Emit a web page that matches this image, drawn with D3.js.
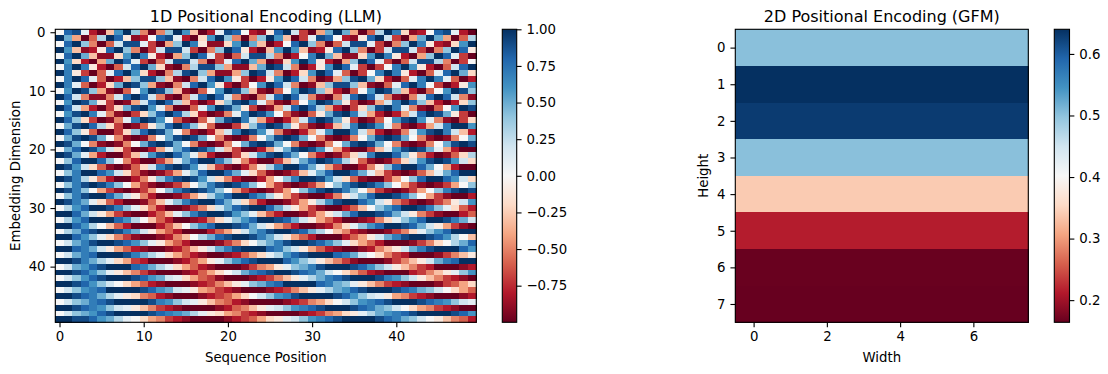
<!DOCTYPE html>
<html>
<head>
<meta charset="utf-8">
<script src="https://cdn.jsdelivr.net/npm/d3@7"></script>
<style>
  html, body { margin: 0; padding: 0; background: #fff; }
  svg { display: block; }
  text { font-family: "DejaVu Sans", sans-serif; fill: #000; }
</style>
</head>
<body>
<div id="chart"></div>
<script>
// cell values of the left map, in tenths, one line per embedding dimension
var llmRows = [
  [0,8,9,1,-8,-10,-3,6,10,4,-5,-10,-5,4,10,6,-3,-10,-8,1,9,8,0,-8,-9,-1,8,10,2,-7,-10,-4,5,10,5,-4,-10,-6,3,10,7,-2,-9,-8,0,8,9,1,-8,-10],
  [10,5,-4,-10,-6,3,10,8,-1,-9,-8,0,8,9,1,-8,-10,-2,6,10,4,-5,-10,-5,4,10,6,-3,-10,-7,1,9,8,0,-8,-9,-1,8,10,2,-7,-10,-4,5,10,5,-4,-10,-6,3],
  [0,8,10,4,-5,-10,-6,2,9,9,1,-7,-10,-4,4,10,7,-1,-9,-9,-2,6,10,5,-3,-10,-8,0,8,10,4,-5,-10,-6,2,9,9,1,-7,-10,-5,4,10,7,-1,-8,-9,-2,6,10],
  [10,6,-3,-9,-8,-1,8,10,4,-5,-10,-7,2,9,9,2,-7,-10,-5,4,10,8,-1,-8,-10,-3,6,10,6,-3,-9,-8,-1,8,10,4,-5,-10,-7,2,9,9,2,-7,-10,-5,4,10,8,-1],
  [0,8,10,5,-3,-9,-9,-2,6,10,7,-1,-8,-10,-4,4,10,8,1,-7,-10,-6,2,9,9,3,-5,-10,-8,0,7,10,5,-3,-9,-9,-2,6,10,7,-1,-8,-10,-4,4,10,8,1,-7,-10],
  [10,6,-2,-8,-10,-4,5,10,8,1,-7,-10,-6,2,9,9,2,-5,-10,-7,1,8,10,5,-4,-10,-9,-2,6,10,7,-1,-8,-10,-4,4,10,8,1,-7,-10,-6,2,9,9,3,-5,-10,-7,0],
  [0,7,10,7,-1,-8,-10,-6,2,8,10,5,-2,-9,-10,-5,3,9,9,4,-4,-9,-9,-3,5,10,9,2,-5,-10,-8,-1,6,10,8,1,-7,-10,-7,0,7,10,6,-1,-8,-10,-6,2,8,10],
  [10,7,-1,-7,-10,-6,1,8,10,6,-2,-8,-10,-5,3,9,10,4,-4,-9,-9,-4,4,10,9,2,-5,-10,-8,-2,6,10,8,1,-6,-10,-7,0,7,10,7,-1,-8,-10,-6,1,8,10,5,-2],
  [0,7,10,8,1,-6,-10,-8,-3,4,9,9,4,-3,-9,-10,-5,2,8,10,6,-1,-7,-10,-8,-1,6,10,8,2,-5,-10,-9,-4,4,9,10,5,-2,-8,-10,-6,1,7,10,7,1,-6,-10,-8],
  [10,7,1,-6,-10,-8,-2,5,10,9,4,-4,-9,-10,-5,2,8,10,6,-1,-8,-10,-7,0,6,10,8,2,-5,-10,-9,-3,4,9,9,4,-3,-9,-10,-6,1,8,10,7,0,-7,-10,-8,-1,6],
  [0,6,10,9,4,-4,-9,-10,-6,0,6,10,9,4,-3,-9,-10,-6,0,6,10,9,4,-3,-9,-10,-6,0,6,10,9,4,-3,-8,-10,-6,0,6,10,9,4,-3,-8,-10,-6,0,6,10,9,4],
  [10,8,2,-5,-9,-9,-5,2,8,10,8,2,-5,-9,-10,-5,2,8,10,8,2,-5,-9,-10,-5,2,8,10,8,2,-5,-9,-10,-5,2,8,10,8,2,-5,-9,-10,-5,2,8,10,8,2,-5,-9],
  [0,6,10,9,5,-1,-7,-10,-9,-4,2,8,10,8,3,-3,-8,-10,-8,-2,4,9,10,7,1,-5,-9,-10,-6,0,6,10,9,5,-1,-7,-10,-9,-4,2,7,10,8,4,-3,-8,-10,-8,-2,4],
  [10,8,2,-4,-8,-10,-7,-2,5,9,10,6,1,-5,-10,-10,-6,1,6,10,9,5,-1,-7,-10,-9,-4,2,8,10,8,3,-4,-8,-10,-7,-2,4,9,10,7,1,-5,-9,-10,-6,0,6,10,9],
  [0,6,9,10,7,1,-5,-9,-10,-7,-2,4,8,10,8,3,-2,-8,-10,-9,-5,1,7,10,9,6,0,-6,-9,-10,-6,-1,5,9,10,7,2,-4,-8,-10,-8,-4,2,8,10,9,5,-1,-7,-10],
  [10,8,4,-2,-7,-10,-9,-5,1,7,10,9,6,0,-6,-9,-10,-6,-1,5,9,10,7,2,-4,-8,-10,-8,-4,2,8,10,9,5,-1,-7,-10,-9,-6,0,6,9,10,6,1,-5,-9,-10,-7,-2],
  [0,5,9,10,8,3,-2,-7,-10,-9,-6,-1,4,8,10,8,4,-1,-6,-10,-10,-7,-2,4,8,10,9,5,-1,-6,-9,-10,-8,-3,2,7,10,9,6,1,-5,-9,-10,-8,-4,2,7,10,10,6],
  [10,8,4,-1,-6,-10,-10,-7,-2,4,8,10,9,5,0,-5,-9,-10,-8,-3,2,7,10,9,6,1,-5,-9,-10,-8,-4,1,6,10,10,7,2,-4,-8,-10,-9,-5,1,6,9,10,7,2,-3,-8],
  [0,5,9,10,9,5,0,-5,-9,-10,-9,-5,0,5,9,10,9,5,0,-5,-9,-10,-9,-5,0,5,9,10,9,5,0,-5,-9,-10,-9,-5,0,5,9,10,9,5,0,-5,-9,-10,-9,-5,0,5],
  [10,9,5,0,-5,-9,-10,-9,-5,0,5,9,10,9,5,0,-5,-9,-10,-9,-5,0,5,9,10,9,5,0,-5,-9,-10,-9,-5,0,5,9,10,9,5,0,-5,-9,-10,-9,-5,0,5,9,10,9],
  [0,5,8,10,9,6,2,-2,-7,-10,-10,-8,-4,1,5,8,10,9,6,2,-3,-7,-10,-10,-8,-4,1,5,9,10,9,6,1,-4,-8,-10,-10,-7,-3,1,6,9,10,9,5,1,-4,-8,-10,-10],
  [10,9,5,1,-4,-8,-10,-10,-7,-3,2,6,9,10,8,5,1,-4,-8,-10,-10,-7,-2,2,6,9,10,8,5,0,-5,-8,-10,-9,-6,-2,2,7,10,10,8,4,-1,-5,-8,-10,-9,-6,-2,3],
  [0,4,8,10,10,8,4,0,-5,-8,-10,-10,-7,-4,1,5,8,10,10,7,4,-1,-5,-8,-10,-10,-7,-3,1,5,8,10,9,7,3,-1,-6,-9,-10,-9,-6,-2,2,6,9,10,9,6,2,-2],
  [10,9,6,2,-2,-6,-9,-10,-9,-6,-2,2,7,9,10,9,6,1,-3,-7,-9,-10,-8,-5,-1,3,7,10,10,8,5,1,-4,-7,-10,-10,-8,-5,-1,4,8,10,10,8,5,0,-4,-8,-10,-10],
  [0,4,7,10,10,8,6,2,-2,-6,-9,-10,-9,-7,-4,1,4,8,10,10,8,5,1,-2,-6,-9,-10,-9,-7,-3,1,5,8,10,10,8,5,1,-3,-7,-9,-10,-9,-6,-3,1,5,8,10,10],
  [10,9,7,3,-1,-5,-8,-10,-10,-8,-5,-1,4,7,9,10,9,6,2,-2,-5,-8,-10,-10,-8,-4,0,4,7,10,10,9,6,2,-2,-6,-9,-10,-10,-7,-4,0,4,8,10,10,8,6,2,-2],
  [0,4,7,9,10,9,7,4,0,-4,-7,-9,-10,-9,-7,-4,0,4,7,9,10,9,7,4,0,-4,-7,-9,-10,-9,-7,-4,0,4,7,9,10,9,7,4,0,-4,-7,-9,-10,-9,-7,-4,0,4],
  [10,9,7,4,0,-4,-7,-9,-10,-9,-7,-4,0,4,7,9,10,9,7,4,0,-4,-7,-9,-10,-9,-7,-4,0,4,7,9,10,9,7,4,0,-4,-7,-9,-10,-9,-7,-4,0,4,7,9,10,9],
  [0,4,7,9,10,10,8,5,2,-1,-5,-8,-10,-10,-9,-7,-4,-1,3,6,8,10,10,8,6,3,-1,-4,-7,-9,-10,-10,-8,-5,-1,2,5,8,10,10,9,7,4,0,-4,-7,-9,-10,-10,-8],
  [10,9,7,5,1,-2,-6,-8,-10,-10,-9,-6,-3,1,4,7,9,10,10,8,5,2,-2,-5,-8,-10,-10,-9,-7,-4,-1,3,6,9,10,10,8,6,2,-1,-5,-7,-9,-10,-9,-7,-5,-1,2,6],
  [0,3,6,8,10,10,9,7,4,1,-2,-5,-8,-10,-10,-9,-7,-5,-2,2,5,8,9,10,10,8,5,2,-1,-4,-7,-9,-10,-10,-8,-6,-3,0,4,6,8,10,10,9,7,4,1,-2,-6,-8],
  [10,10,8,5,2,-1,-4,-7,-9,-10,-10,-8,-6,-3,1,4,7,9,10,10,9,6,4,1,-3,-6,-8,-10,-10,-9,-7,-4,-1,2,5,8,10,10,9,8,5,2,-1,-5,-7,-9,-10,-10,-8,-6],
  [0,3,6,8,10,10,10,8,6,3,0,-3,-6,-8,-10,-10,-9,-8,-5,-2,1,4,6,8,10,10,9,8,5,2,-1,-4,-6,-8,-10,-10,-9,-8,-5,-2,1,4,6,8,10,10,9,7,5,2],
  [10,10,8,6,3,0,-3,-6,-8,-10,-10,-10,-8,-6,-3,0,4,6,8,10,10,9,8,5,2,-1,-4,-6,-8,-10,-10,-9,-8,-5,-2,1,4,6,8,10,10,9,8,5,2,-1,-4,-7,-9,-10],
  [0,3,5,8,9,10,10,9,7,5,2,-1,-4,-6,-8,-10,-10,-10,-8,-6,-4,-1,2,5,7,9,10,10,9,8,5,3,0,-3,-5,-8,-9,-10,-10,-9,-7,-5,-2,1,4,6,8,10,10,10],
  [10,10,8,6,4,1,-2,-5,-7,-9,-10,-10,-9,-8,-5,-3,0,3,5,8,9,10,10,9,7,5,2,-1,-4,-6,-8,-10,-10,-10,-8,-6,-4,-1,2,5,7,9,10,10,9,8,6,3,0,-3],
  [0,2,5,7,9,10,10,9,8,6,4,1,-1,-4,-6,-8,-10,-10,-10,-9,-7,-5,-2,0,3,5,7,9,10,10,9,8,6,4,1,-2,-4,-6,-8,-10,-10,-10,-9,-7,-5,-2,0,3,5,8],
  [10,10,8,7,5,2,-1,-4,-6,-8,-9,-10,-10,-9,-8,-6,-3,-1,2,5,7,9,10,10,10,8,7,4,2,-1,-4,-6,-8,-9,-10,-10,-9,-8,-5,-3,-1,2,5,7,9,10,10,10,8,6],
  [0,2,5,7,8,10,10,10,9,7,5,3,1,-2,-4,-6,-8,-9,-10,-10,-9,-8,-6,-4,-2,1,3,6,8,9,10,10,10,8,7,5,2,0,-2,-5,-7,-8,-10,-10,-10,-9,-7,-5,-3,-1],
  [10,10,9,7,5,3,1,-2,-4,-7,-8,-10,-10,-10,-9,-8,-6,-4,-1,1,4,6,8,9,10,10,10,8,6,4,2,-1,-3,-5,-7,-9,-10,-10,-10,-9,-7,-5,-3,-1,2,5,7,8,10,10],
  [0,2,5,6,8,9,10,10,10,8,7,5,3,1,-2,-4,-6,-8,-9,-10,-10,-10,-9,-7,-5,-4,-1,1,4,5,7,9,10,10,10,9,8,6,4,2,-1,-3,-5,-7,-8,-10,-10,-10,-9,-8],
  [10,10,9,8,6,4,1,-1,-3,-5,-7,-9,-10,-10,-10,-9,-8,-6,-4,-2,0,2,5,7,8,9,10,10,9,8,7,5,2,0,-2,-4,-6,-8,-9,-10,-10,-10,-8,-7,-5,-3,-1,1,4,6],
  [0,2,4,6,8,9,10,10,10,9,8,6,5,2,1,-2,-4,-6,-7,-9,-10,-10,-10,-9,-8,-7,-5,-3,-1,1,3,5,7,8,9,10,10,10,9,7,6,4,2,-1,-3,-5,-7,-8,-9,-10],
  [10,10,9,8,6,4,2,0,-2,-4,-6,-8,-9,-10,-10,-10,-9,-8,-7,-5,-3,-1,1,4,5,7,8,10,10,10,10,8,7,5,4,1,-1,-3,-5,-7,-8,-9,-10,-10,-10,-9,-7,-6,-4,-2],
  [0,2,4,6,7,8,10,10,10,10,9,8,6,5,2,1,-1,-4,-5,-7,-8,-9,-10,-10,-10,-9,-8,-7,-5,-3,-1,1,3,5,6,8,9,10,10,10,9,8,7,5,4,2,0,-2,-4,-6],
  [10,10,9,8,7,5,3,1,-1,-2,-5,-6,-8,-9,-10,-10,-10,-9,-8,-7,-6,-4,-2,0,2,4,6,7,9,10,10,10,10,9,8,6,4,2,1,-1,-4,-5,-7,-8,-9,-10,-10,-10,-9,-8],
  [0,2,4,5,7,8,9,10,10,10,10,9,7,6,4,2,1,-1,-3,-5,-6,-8,-9,-10,-10,-10,-10,-9,-8,-7,-5,-4,-2,0,2,4,6,7,8,9,10,10,10,9,8,7,6,4,2,1],
  [10,10,9,8,7,6,4,2,1,-1,-3,-5,-7,-8,-9,-10,-10,-10,-10,-9,-8,-6,-5,-3,-1,1,2,4,6,7,8,9,10,10,10,9,8,7,5,4,2,0,-2,-4,-5,-7,-8,-9,-10,-10],
  [0,2,4,5,6,8,9,10,10,10,10,9,8,7,6,5,3,1,-1,-2,-4,-5,-7,-8,-9,-10,-10,-10,-10,-9,-8,-7,-5,-4,-2,-1,1,3,5,6,7,8,9,10,10,10,10,9,8,6],
  [10,10,9,9,8,6,5,3,1,0,-2,-4,-5,-7,-8,-9,-10,-10,-10,-10,-9,-8,-7,-6,-4,-2,-1,1,2,4,6,7,8,9,10,10,10,10,9,8,7,5,4,2,0,-1,-3,-5,-6,-8]
];

// right map: every height row is one flat value across the 8 widths
var gfmRows = [0.502, 0.640, 0.630, 0.502, 0.340, 0.214, 0.165, 0.164];
var gfmColumns = [0, 1, 2, 3, 4, 5, 6, 7];

var llmXTicks = [0, 10, 20, 30, 40];
var llmYTicks = [0, 10, 20, 30, 40];
var llmBarTicks = [1, 0.75, 0.5, 0.25, 0, -0.25, -0.5, -0.75];
var gfmXTicks = [0, 2, 4, 6];
var gfmYTicks = [0, 1, 2, 3, 4, 5, 6, 7];
var gfmBarTicks = [0.6, 0.5, 0.4, 0.3, 0.2];

// matplotlib RdBu anchors, low to high
var rdbu = ["#67001f", "#b2182b", "#d6604d", "#f4a582", "#fddbc7", "#f7f7f7",
            "#d1e5f0", "#92c5de", "#4393c3", "#2166ac", "#053061"];

var TICK_LEN = 4.86, LINE_W = 1.11, FONT = 13.3, TITLE_FONT = 16;

var svg = d3.select("#chart").append("svg")
    .attr("width", 1108)
    .attr("height", 374);

function colorScale(lo, hi) {
  var t = d3.scaleLinear().domain([lo, hi]).range([0, rdbu.length - 1]);
  var c = d3.scaleLinear().domain(d3.range(rdbu.length)).range(rdbu).interpolate(d3.interpolateRgb);
  return function(v) { return c(t(v)); };
}

function styleAxis(g) {
  g.select(".domain").remove();
  g.selectAll(".tick line").attr("stroke", "#000").attr("stroke-width", LINE_W);
  g.selectAll(".tick text").style("font-size", FONT + "px").style("font-family", "'DejaVu Sans', sans-serif").attr("fill", "#000");
}

function heatmap(o) {
  var width = o.x1 - o.x0,
      height = 322.3 - 29.3;

  var g = svg.append("g").attr("transform", "translate(" + o.x0 + ",29.3)");

  var x = d3.scaleLinear().domain([-0.5, o.values[0].length - 0.5]).range([0, width]);
  var y = d3.scaleLinear().domain([-0.5, o.values.length - 0.5]).range([0, height]);
  var color = colorScale(o.lo, o.hi);

  var cells = [];
  o.values.forEach(function(row, r) {
    row.forEach(function(v, c) { cells.push({r: r, c: c, v: v}); });
  });

  g.selectAll(".cell")
      .data(cells)
    .enter().append("rect")
      .attr("class", "cell")
      .attr("shape-rendering", "crispEdges")
      .attr("x", function(d) { return x(d.c - 0.5); })
      .attr("y", function(d) { return y(d.r - 0.5); })
      .attr("width", x(1) - x(0) + 0.4)
      .attr("height", y(1) - y(0) + 0.4)
      .attr("fill", function(d) { return color(d.v); });

  g.append("rect")
      .attr("width", width)
      .attr("height", height)
      .attr("fill", "none")
      .attr("stroke", "#000")
      .attr("stroke-width", LINE_W);

  g.append("g")
      .attr("transform", "translate(0," + height + ")")
      .call(d3.axisBottom(x).tickValues(o.xTicks).tickSize(TICK_LEN).tickPadding(4.86))
      .call(styleAxis);

  g.append("g")
      .call(d3.axisLeft(y).tickValues(o.yTicks).tickSize(TICK_LEN).tickPadding(4.86))
      .call(styleAxis);

  g.append("text")
      .attr("x", width / 2)
      .attr("y", -7)
      .attr("text-anchor", "middle")
      .style("font-size", TITLE_FONT + "px")
      .text(o.title);

  g.append("text")
      .attr("x", width / 2)
      .attr("y", 40)
      .attr("transform", "translate(0," + height + ")")
      .attr("text-anchor", "middle")
      .style("font-size", FONT + "px")
      .text(o.xLabel);

  g.append("text")
      .attr("transform", "translate(" + o.yLabelX + "," + height / 2 + ") rotate(-90)")
      .attr("text-anchor", "middle")
      .style("font-size", FONT + "px")
      .text(o.yLabel);

  // colorbar
  var bar = svg.append("g").attr("transform", "translate(" + o.barX + ",29.3)");
  var barW = o.barW;
  var yBar = d3.scaleLinear().domain([o.lo, o.hi]).range([height, 0]);
  var gradId = "grad" + Math.round(o.barX);

  var grad = svg.append("defs").append("linearGradient")
      .attr("id", gradId)
      .attr("x1", 0).attr("x2", 0).attr("y1", 1).attr("y2", 0);
  grad.selectAll("stop")
      .data(rdbu)
    .enter().append("stop")
      .attr("offset", function(d, i) { return i / (rdbu.length - 1); })
      .attr("stop-color", function(d) { return d; });

  bar.append("rect")
      .attr("width", barW)
      .attr("height", height)
      .attr("fill", "url(#" + gradId + ")")
      .attr("stroke", "#000")
      .attr("stroke-width", LINE_W);

  bar.append("g")
      .attr("transform", "translate(" + barW + ",0)")
      .call(d3.axisRight(yBar).tickValues(o.barTicks).tickFormat(d3.format(o.barFormat)).tickSize(TICK_LEN).tickPadding(4.86))
      .call(styleAxis);
}

heatmap({
  x0: 55.3, x1: 476.3,
  values: llmRows.map(function(row) { return row.map(function(d) { return d / 10; }); }),
  lo: -1, hi: 1,
  xTicks: llmXTicks, yTicks: llmYTicks,
  title: "1D Positional Encoding (LLM)",
  xLabel: "Sequence Position",
  yLabel: "Embedding Dimension",
  yLabelX: -35,
  barX: 502.3, barW: 14.4,
  barTicks: llmBarTicks, barFormat: ".2f"
});

heatmap({
  x0: 735.3, x1: 1028.3,
  values: gfmRows.map(function(v) { return gfmColumns.map(function() { return v; }); }),
  lo: 0.164, hi: 0.64,
  xTicks: gfmXTicks, yTicks: gfmYTicks,
  title: "2D Positional Encoding (GFM)",
  xLabel: "Width",
  yLabel: "Height",
  yLabelX: -27,
  barX: 1054.3, barW: 15.2,
  barTicks: gfmBarTicks, barFormat: ".1f"
});
</script>
</body>
</html>
